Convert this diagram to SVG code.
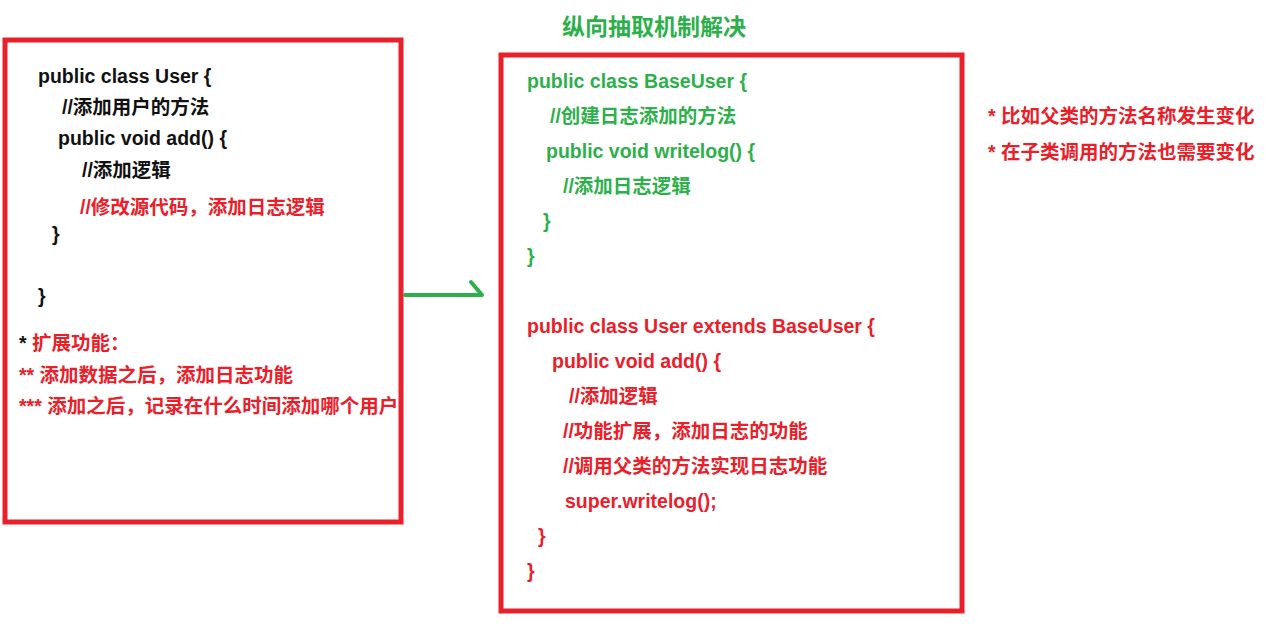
<svg xmlns="http://www.w3.org/2000/svg" width="1275" height="625" viewBox="0 0 1275 625">
<style>
text{font-family:"Liberation Sans","Noto Sans CJK SC",sans-serif;font-weight:bold;font-size:19.5px}
.k{fill:#111}.r{fill:#e8202a}.g{fill:#2db04b}
.box{fill:none;stroke:#e8202a;stroke-width:5}
</style>
<rect width="1275" height="625" fill="#fff"/>
<text class="g" x="654" y="35" text-anchor="middle" style="font-size:23px">纵向抽取机制解决</text>
<g id="left">
<rect class="box" x="5" y="40" width="396" height="482"/>
<text class="k" x="38" y="83">public class User {</text>
<text class="k" x="62" y="114">//添加用户的方法</text>
<text class="k" x="58" y="145">public void add() {</text>
<text class="k" x="82" y="177">//添加逻辑</text>
<text class="r" x="80" y="214">//修改源代码，添加日志逻辑</text>
<text class="k" x="52" y="241">}</text>
<text class="k" x="38" y="303">}</text>
<text class="r" x="19" y="350"><tspan class="k">* </tspan>扩展功能：</text>
<text class="r" x="19" y="382">** 添加数据之后，添加日志功能</text>
<text class="r" x="19" y="413">*** 添加之后，记录在什么时间添加哪个用户</text>
</g>
<g id="connectors">
<path d="M405 295 H482 L471 282" fill="none" stroke="#2db04b" stroke-width="4" stroke-linecap="round" stroke-linejoin="round"/>
</g>
<g id="right">
<rect class="box" x="501" y="55" width="461" height="556"/>
<text class="g" x="527" y="88">public class BaseUser {</text>
<text class="g" x="550" y="123">//创建日志添加的方法</text>
<text class="g" x="546" y="158">public void writelog() {</text>
<text class="g" x="563" y="193">//添加日志逻辑</text>
<text class="g" x="543" y="228">}</text>
<text class="g" x="527" y="263">}</text>
<text class="r" x="527" y="333">public class User extends BaseUser {</text>
<text class="r" x="552" y="368">public void add() {</text>
<text class="r" x="569" y="403">//添加逻辑</text>
<text class="r" x="563" y="438">//功能扩展，添加日志的功能</text>
<text class="r" x="563" y="473">//调用父类的方法实现日志功能</text>
<text class="r" x="565" y="508">super.writelog();</text>
<text class="r" x="538" y="543">}</text>
<text class="r" x="527" y="578">}</text>
</g>
<g id="notes">
<text class="r" x="988" y="123">* 比如父类的方法名称发生变化</text>
<text class="r" x="988" y="159">* 在子类调用的方法也需要变化</text>
</g>
</svg>
